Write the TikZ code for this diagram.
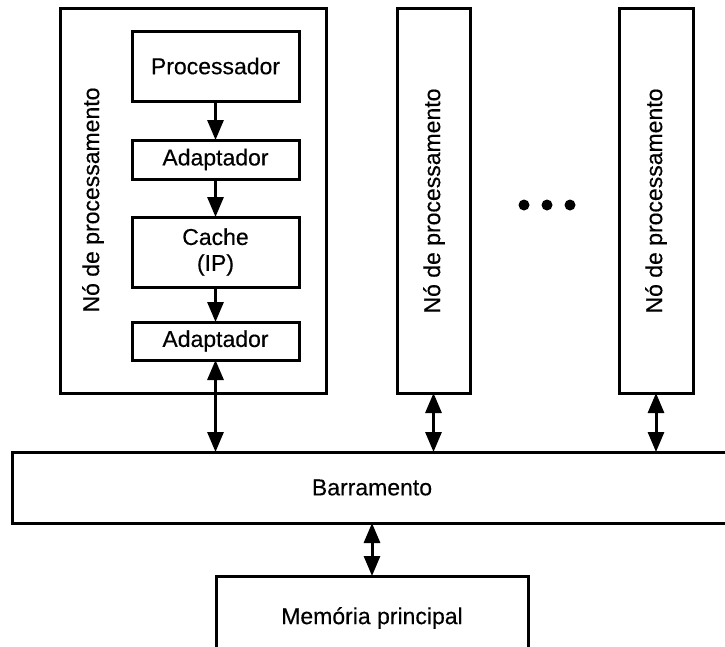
\documentclass[tikz,border=0pt]{standalone}
\usepackage{fontspec}
\newfontfamily\labfont{Liberation Sans}[FakeBold=0.35]
\usetikzlibrary{arrows.meta}
\begin{document}
\begin{tikzpicture}[x=1pt,y=-1pt,
  every node/.style={font=\labfont\fontsize{23}{26}\selectfont, inner sep=0pt, outer sep=0pt},
  box/.style={draw, line width=3pt, fill=white, align=center},
  conn/.style={line width=3pt, -{Triangle[width=16pt,length=20pt]}},
  biconn/.style={line width=3pt, {Triangle[width=16pt,length=20pt]}-{Triangle[width=16pt,length=20pt]}},
  dot/.style={circle, fill=black, minimum size=11pt}
]
\useasboundingbox (0,0) rectangle (725,646);
\clip (0,0) rectangle (725,646);
% processing nodes
\node[box, minimum width=266pt, minimum height=385pt] (n1) at (193,200.5) {};
\node[rotate=90] (n1t) at (93,200) {Nó de processamento};
\node[box, minimum width=167pt, minimum height=70pt] (proc) at (215.5,66) {Processador};
\node[box, minimum width=167pt, minimum height=39pt] (ad1) at (215.5,159.5) {Adaptador};
\node[box, minimum width=167pt, minimum height=70pt] (cache) at (215.5,252) {Cache\\(IP)};
\node[box, minimum width=167pt, minimum height=38pt] (ad2) at (215.5,341) {Adaptador};
\node[box, minimum width=73pt, minimum height=385pt] (n2) at (433.5,200.5) {};
\node[box, minimum width=74pt, minimum height=385pt] (n3) at (656,200.5) {};
\node[rotate=90] (n2t) at (434,201) {Nó de processamento};
\node[rotate=90] (n3t) at (656,201) {Nó de processamento};
% dots
\node[dot] (d1) at (524,205) {};
\node[dot] (d2) at (547,205) {};
\node[dot] (d3) at (570,205) {};
% bus and memory
\node[box, minimum width=720pt, minimum height=71pt] (bus) at (372,487.5) {Barramento};
\node[box, minimum width=312pt, minimum height=84pt] (mem) at (372,618) {Memória principal};
% connectors
\draw[conn] (proc.south) -- (ad1.north);
\draw[conn] (ad1.south) -- (cache.north);
\draw[conn] (cache.south) -- (ad2.north);
\draw[biconn] (ad2.south) -- (ad2.south |- bus.north);
\draw[biconn] (n2.south) -- (n2.south |- bus.north);
\draw[biconn] (n3.south) -- (n3.south |- bus.north);
\draw[biconn] (bus.south) -- (mem.north);
\end{tikzpicture}
\end{document}
